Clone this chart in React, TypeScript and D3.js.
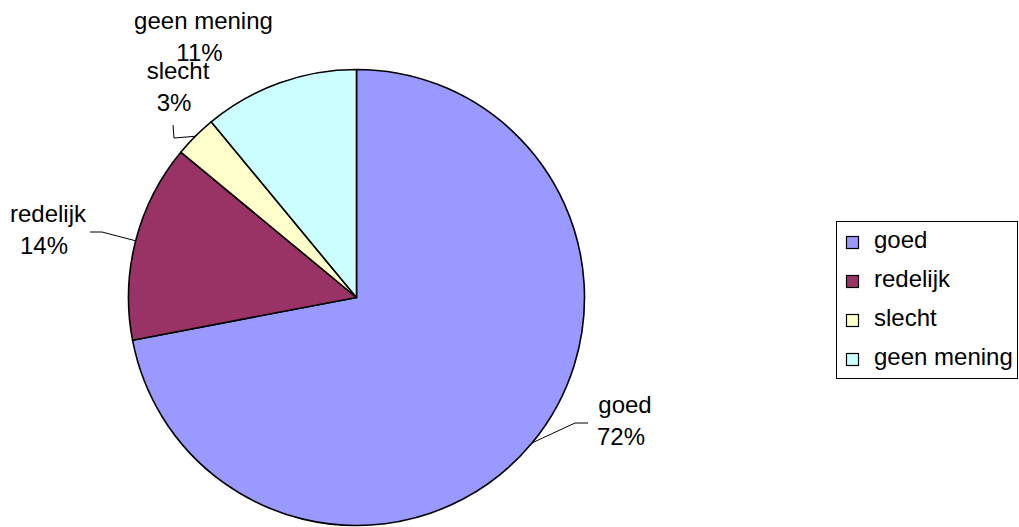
import React from "react";
import * as d3 from "d3";

const categories = ["goed", "redelijk", "slecht", "geen mening"];
const values = [72, 14, 3, 11];
const colors = ["#9999FF", "#993366", "#FFFFCC", "#CCFFFF"];

// layout constants (label block centers / first baselines, leader elbows)
const labelLayout = [
  { cx: 625, y: 413, leader: [[575, 423], [588, 423]] },
  { cx: 48, y: 222, leader: [[102, 232], [90, 232]] },
  { cx: 178, y: 79, leader: [[174, 138], [173, 125]] },
  { cx: 203.5, y: 29, leader: null as number[][] | null },
];

const W = 1019;
const H = 527;
const cx = 356.5;
const cy = 297.5;
const R = 228;
const FONT = "'Liberation Sans', Arial, sans-serif";
const FS = 24;
const LINE = 31.5;
const PCT_DX = -4;

export default function App() {
  const total = d3.sum(values);
  const pie = d3
    .pie<number>()
    .sort(null)
    .value((d) => d)
    .startAngle(0)
    .endAngle(2 * Math.PI);
  const arcs = pie(values);
  const arcGen = d3.arc<d3.PieArcDatum<number>>().innerRadius(0).outerRadius(R);
  const fmt = d3.format(".0%");

  return (
    <svg
      width={W}
      height={H}
      style={{ position: "absolute", left: 0, top: 0, display: "block" }}
      fontFamily={FONT}
    >
      <rect width={W} height={H} fill="#ffffff" />
      <g transform={`translate(${cx},${cy})`}>
        {arcs.map((a, i) => (
          <path
            key={i}
            d={arcGen(a) || ""}
            fill={colors[i]}
            stroke="#000"
            strokeWidth={1.6}
            strokeLinejoin="round"
          />
        ))}
      </g>
      {arcs.map((a, i) => {
        const L = labelLayout[i];
        const mid = (a.startAngle + a.endAngle) / 2;
        const sx = cx + R * Math.sin(mid);
        const sy = cy - R * Math.cos(mid);
        return (
          <g key={"l" + i}>
            {L.leader && (
              <polyline
                points={[[sx, sy], ...L.leader].map((p) => p.join(",")).join(" ")}
                fill="none"
                stroke="#000"
                strokeWidth={1}
              />
            )}
            <text x={L.cx} y={L.y} fontSize={FS} textAnchor="middle" fill="#000">
              {categories[i]}
            </text>
            <text x={L.cx + PCT_DX} y={L.y + LINE} fontSize={FS} textAnchor="middle" fill="#000">
              {fmt(values[i] / total)}
            </text>
          </g>
        );
      })}
      <g>
        <rect x={836.5} y={221.5} width={181} height={157} fill="#fff" stroke="#000" strokeWidth={1} />
        {categories.map((c, i) => (
          <g key={"lg" + i}>
            <rect
              x={846.5}
              y={236.5 + i * 39}
              width={12}
              height={12}
              fill={colors[i]}
              stroke="#000"
              strokeWidth={1.2}
            />
            <text x={874} y={248 + i * 39} fontSize={FS} fill="#000">
              {c}
            </text>
          </g>
        ))}
      </g>
    </svg>
  );
}
